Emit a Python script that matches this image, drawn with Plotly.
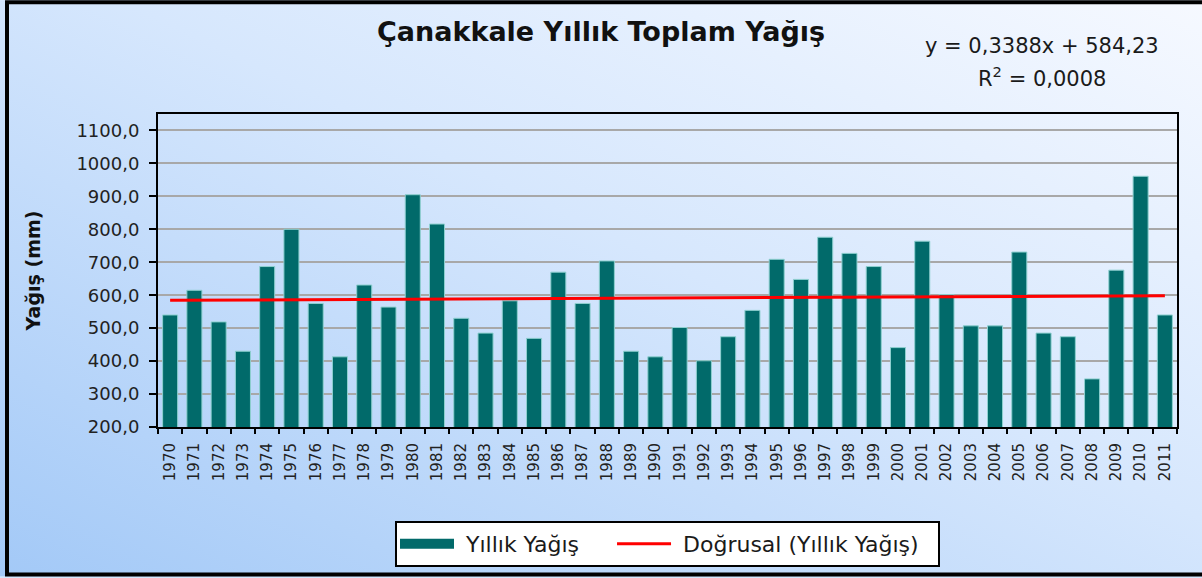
import base64
import plotly.graph_objects as go

years = [str(y) for y in range(1970, 2012)]
rain = [540, 615, 519, 430, 687, 800, 575, 413, 631, 564,
        905, 816, 530, 485, 583, 469, 670, 575, 704, 430,
        413, 502, 401, 474, 554, 709, 648, 776, 727, 687,
        441, 764, 602, 507, 507, 731, 485, 474, 346, 676,
        961, 540]
trend_slope = 0.3388
trend_intercept = 584.23
trend = [trend_slope * (i + 1) + trend_intercept for i in range(len(years))]

W, H = 1202, 578
L, R, T, B = 158, 25, 114, 150
pw, ph = W - L - R, H - T - B

def px_x(p):
    return (p - L) / pw

def px_y(p):
    return (H - B - p) / ph

svg = f'''<svg xmlns="http://www.w3.org/2000/svg" width="{W}" height="{H}" preserveAspectRatio="none">
<defs><linearGradient id="g" x1="0" y1="1" x2="1" y2="0">
<stop offset="0" stop-color="#a3c9f7"/>
<stop offset="0.55" stop-color="#d6e7fd"/>
<stop offset="1" stop-color="#f6f9ff"/>
</linearGradient></defs>
<rect width="{W}" height="{H}" fill="url(#g)"/></svg>'''
src = "data:image/svg+xml;base64," + base64.b64encode(svg.encode()).decode()

font = "DejaVu Sans, Verdana, sans-serif"
bar_color = "#016a6a"
nb = "\u00a0"

fig = go.Figure()
fig.add_trace(go.Bar(
    x=years, y=rain, name="Yıllık Yağış", legendgroup="bar", showlegend=False,
    marker=dict(color=bar_color, line=dict(color="#8fd0d0", width=1)),
))
# legend-only entry drawn as a wide rectangle, like the reference legend key
fig.add_trace(go.Scatter(
    x=[None], y=[None], name=nb + "Yıllık Yağış" + nb * 4, legendgroup="bar", mode="lines",
    line=dict(color=bar_color, width=13),
))
fig.add_trace(go.Scatter(
    x=years, y=trend, name=nb + "Doğrusal (Yıllık Yağış)" + nb * 2, mode="lines",
    line=dict(color="#ff0000", width=3),
))

fig.update_layout(
    width=W, height=H,
    margin=dict(l=L, r=R, t=T, b=B),
    paper_bgcolor="#d6e7fd",
    plot_bgcolor="#ffffff",
    separators=",.",
    bargap=0.38,
    showlegend=True,
    font=dict(family=font, color="#1a1a1a"),
    legend=dict(
        orientation="h", x=0.5, xanchor="center", y=px_y(521), yanchor="top",
        bgcolor="#ffffff", bordercolor="#000000", borderwidth=2,
        font=dict(size=22, family=font, color="#1a1a1a"),
        tracegroupgap=0, itemwidth=54,
    ),
    xaxis=dict(
        type="category", tickangle=-90, tickson="boundaries",
        ticks="outside", ticklen=5, tickcolor="#000", tickwidth=1.5,
        ticklabelstandoff=8,
        showline=True, linecolor="#000000", linewidth=2, mirror=True,
        showgrid=False, tickfont=dict(size=15, family=font, color="#222"),
    ),
    yaxis=dict(
        range=[200, 1150], tick0=200, dtick=100, tickformat=".1f",
        ticks="outside", ticklen=7, tickcolor="#000", tickwidth=1.5,
        ticklabelstandoff=6,
        showline=True, linecolor="#000000", linewidth=2, mirror=True,
        showgrid=True, gridcolor="#a8a8a8", gridwidth=1.5,
        tickfont=dict(size=18, family=font, color="#222"),
        title=dict(text="<b>Yağış (mm)</b>", font=dict(size=19, family=font, color="#111"),
                   standoff=31),
        zeroline=False,
    ),
    images=[dict(
        source=src, xref="paper", yref="paper",
        x=px_x(0), y=px_y(0), sizex=W / pw, sizey=H / ph,
        xanchor="left", yanchor="top", sizing="stretch", layer="below",
    )],
    shapes=[dict(
        type="rect", xref="paper", yref="paper",
        x0=px_x(7), x1=px_x(1206), y0=px_y(576), y1=px_y(2),
        line=dict(color="#000000", width=4), fillcolor="rgba(0,0,0,0)",
    )],
    annotations=[
        dict(text="<b>Çanakkale Yıllık Toplam Yağış</b>", xref="paper", yref="paper",
             x=px_x(601), y=px_y(31), xanchor="center", yanchor="middle", showarrow=False,
             font=dict(size=27, family=font, color="#111")),
        dict(text="y = 0,3388x + 584,23", xref="paper", yref="paper",
             x=px_x(1042), y=px_y(46), xanchor="center", yanchor="middle", showarrow=False,
             font=dict(size=21, family=font, color="#1a1a1a")),
        dict(text="R<sup>2</sup> = 0,0008", xref="paper", yref="paper",
             x=px_x(1042), y=px_y(77), xanchor="center", yanchor="middle", showarrow=False,
             font=dict(size=21, family=font, color="#1a1a1a")),
    ],
)

fig.write_html("out.html", config={"displayModeBar": False},
               post_script="document.body.style.margin='0';")
